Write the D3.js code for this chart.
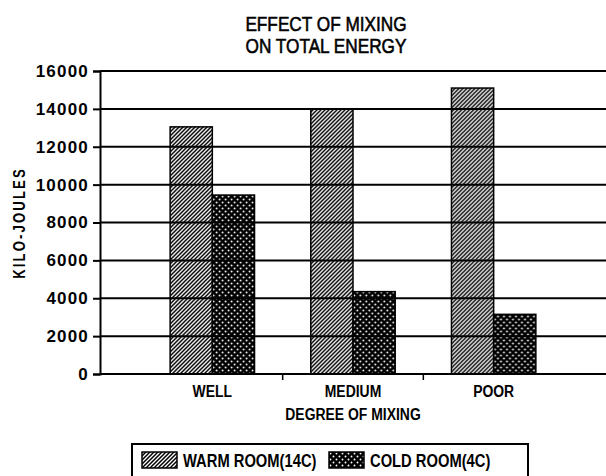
<!DOCTYPE html>
<html>
<head>
<meta charset="utf-8">
<script src="https://cdn.jsdelivr.net/npm/d3@7"></script>
<style>
  html, body { margin: 0; padding: 0; background: #fff; }
  svg { display: block; }
</style>
</head>
<body>
<svg id="chart" width="606" height="476"></svg>
<script>
// ---- data ----
const categories = ["WELL", "MEDIUM", "POOR"];
const seriesNames = ["WARM ROOM(14C)", "COLD ROOM(4C)"];
const warmRoom = [13050, 14000, 15100];
const coldRoom = [9450, 4350, 3150];
const yTicks = [0, 2000, 4000, 6000, 8000, 10000, 12000, 14000, 16000];
const titleLines = ["EFFECT OF MIXING", "ON TOTAL ENERGY"];
const yTitle = "KILO-JOULES";
const xTitle = "DEGREE OF MIXING";

const seriesValues = [warmRoom, coldRoom];
const rows = categories.map((c, i) => ({ cat: c, vals: seriesNames.map((s, j) => ({ s, j, v: seriesValues[j][i] })) }));

const svg = d3.select("#chart");
const plotLeft = 100, plotRight = 606, plotTop = 71, plotBottom = 374;
const FONT = "'Liberation Sans', Arial, sans-serif";
const SX = 0.82; // emulate a narrow face

// condensed text helper
function ntext(parent, tx, ty, str, size, weight, anchor, extra) {
  const g = parent.append("g").attr("transform", `translate(${tx},${ty}) ${extra || ""} scale(${SX},1)`);
  return g.append("text").attr("x", 0).attr("y", 0)
    .attr("text-anchor", anchor || "start")
    .style("font-family", FONT).style("font-size", size + "px").style("font-weight", weight)
    .attr("fill", "#000").text(str);
}

// ---- patterns ----
const defs = svg.append("defs");
const hatch = defs.append("pattern").attr("id", "hatch")
  .attr("patternUnits", "userSpaceOnUse").attr("width", 4).attr("height", 4);
hatch.append("rect").attr("width", 4).attr("height", 4).attr("fill", "#fff");
hatch.append("path").attr("d", "M-1,1 l2,-2 M0,4 l4,-4 M3,5 l2,-2")
  .attr("stroke", "#000").attr("stroke-width", 1.5);

const dots = defs.append("pattern").attr("id", "dots")
  .attr("patternUnits", "userSpaceOnUse").attr("width", 6).attr("height", 6);
dots.append("rect").attr("width", 6).attr("height", 6).attr("fill", "#000");
dots.append("circle").attr("cx", 1.5).attr("cy", 1.5).attr("r", 0.95).attr("fill", "#fff");
dots.append("circle").attr("cx", 4.5).attr("cy", 4.5).attr("r", 0.95).attr("fill", "#fff");
const fills = ["url(#hatch)", "url(#dots)"];

// ---- scales ----
const y = d3.scaleLinear().domain([0, 16000]).range([plotBottom, plotTop]);
const x = d3.scaleBand().domain(categories).range([142, 564]).paddingInner(0.4).paddingOuter(0.2);
const xs = d3.scaleBand().domain(seriesNames).range([0, x.bandwidth()]);

// ---- title ----
const titleG = svg.append("g");
titleLines.forEach((t, i) => ntext(titleG, 326, 31 + i * 22, t, 21, "normal", "middle")
  .attr("stroke", "#000").attr("stroke-width", 0.6));

// ---- bars ----
const groups = svg.append("g").selectAll("g").data(rows).join("g")
  .attr("transform", d => `translate(${x(d.cat)},0)`);
groups.selectAll("rect").data(d => d.vals).join("rect")
  .attr("x", d => xs(d.s)).attr("width", xs.bandwidth())
  .attr("y", d => y(d.v)).attr("height", d => y(0) - y(d.v))
  .attr("fill", d => fills[d.j]).attr("stroke", "#000").attr("stroke-width", 1.5);

// ---- gridlines (over bars) ----
svg.append("g").selectAll("line").data(yTicks).join("line")
  .attr("x1", plotLeft).attr("x2", plotRight)
  .attr("y1", d => y(d)).attr("y2", d => y(d))
  .attr("stroke", "#000").attr("stroke-width", 2);

// ---- y axis ----
const yAxis = svg.append("g").attr("transform", `translate(${plotLeft},0)`)
  .call(d3.axisLeft(y).tickValues(yTicks).tickSize(7).tickPadding(4).tickFormat(d3.format("d")));
yAxis.select(".domain").attr("stroke", "#000").attr("stroke-width", 2);
yAxis.selectAll(".tick line").attr("stroke", "#000").attr("stroke-width", 2);
yAxis.selectAll(".tick text").attr("fill", "#000")
  .style("font-family", FONT).style("font-size", "17px")
  .style("font-weight", "bold").style("letter-spacing", "1.2px");

// ---- x axis ----
const xAxisG = svg.append("g").attr("transform", `translate(0,${plotBottom})`);
xAxisG.append("line").attr("x1", plotLeft).attr("x2", plotRight).attr("stroke", "#000").attr("stroke-width", 2);
const step = x.step();
const boundaries = categories.slice(0, -1).map(c => x(c) + x.bandwidth() + step * x.paddingInner() / 2);
xAxisG.selectAll(".sep").data(boundaries).join("line").attr("class", "sep")
  .attr("x1", d => d).attr("x2", d => d).attr("y1", 0).attr("y2", 6)
  .attr("stroke", "#000").attr("stroke-width", 1.5);
categories.forEach(c => ntext(xAxisG, x(c) + x.bandwidth() / 2, 23, c, 17, "bold", "middle"));

// ---- axis titles ----
ntext(svg, (plotLeft + plotRight) / 2, 420, xTitle, 17, "bold", "middle");
ntext(svg, 25, 223, yTitle, 16, "bold", "middle", "rotate(-90)").style("letter-spacing", "2.6px");

// ---- legend ----
const legend = svg.append("g");
legend.append("rect").attr("x", 132).attr("y", 444).attr("width", 396).attr("height", 40)
  .attr("fill", "#fff").attr("stroke", "#000").attr("stroke-width", 2);
const legendX = [142, 329];
seriesNames.forEach((s, i) => {
  const g = legend.append("g").attr("transform", `translate(${legendX[i]},452)`);
  g.append("rect").attr("width", 35).attr("height", 16)
    .attr("fill", fills[i]).attr("stroke", "#000").attr("stroke-width", 1.5);
  ntext(g, 41, 15, s, 18, "bold", "start");
});
</script>
</body>
</html>
